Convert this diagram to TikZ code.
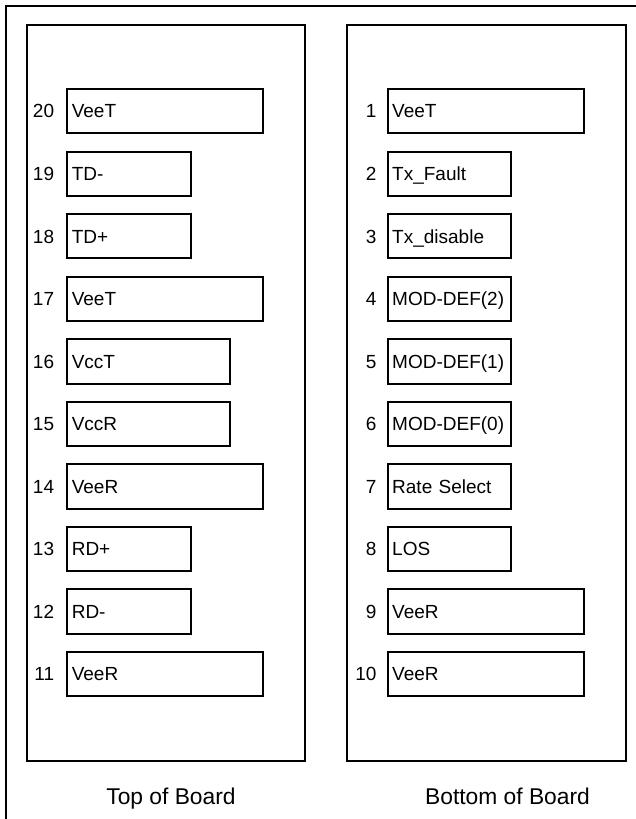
\documentclass[tikz,border=0pt]{standalone}
\usepackage{fontspec}
\setmainfont{Liberation Sans}
\usepackage{tikz}
\usetikzlibrary{
    positioning
}

\begin{document}
\begin{tikzpicture}[
    x=1pt, y=-1pt,
    node distance=18.26pt,
    frame/.style={
        draw=black,
        line width=2pt
    },
    pinbox/.style={
        rectangle,
        draw=black,
        line width=2pt,
        outer sep=0pt,
        minimum height=44.3pt,
        inner xsep=4.5pt,
        inner ysep=0pt,
        text height=13.6pt,
        text depth=0pt,
        align=left,
        anchor=north west,
        font=\fontsize{19}{22}\selectfont
    },
    pinwide/.style={pinbox, text width=187pt},
    pinmid/.style={pinbox, text width=153.7pt},
    pinnarrow/.style={pinbox, text width=114.5pt},
    pinnum/.style={
        inner sep=0pt,
        text height=13.6pt,
        text depth=0pt,
        font=\fontsize{19}{22}\selectfont
    },
    caption/.style={
        inner sep=0pt,
        anchor=base,
        font=\fontsize{22.8}{26}\selectfont
    }
]
\clip (0,0) rectangle (636,819);

% ===== outer frame and the two sides =====
\draw[frame] (6,6) rectangle (660,840);
\draw[frame] (27,25.3) rectangle (305,761);
\draw[frame] (347.3,25.3) rectangle (625.7,761);

% ===== TOP OF BOARD: pins 20-11 =====
\node[pinwide] (p20) at (67.3,89) {VeeT};
\node[pinnarrow, below=of p20.south west, anchor=north west] (p19) {TD-};
\node[pinnarrow, below=of p19.south west, anchor=north west] (p18) {TD+};
\node[pinwide, below=of p18.south west, anchor=north west] (p17) {VeeT};
\node[pinmid, below=of p17.south west, anchor=north west] (p16) {VccT};
\node[pinmid, below=of p16.south west, anchor=north west] (p15) {VccR};
\node[pinwide, below=of p15.south west, anchor=north west] (p14) {VeeR};
\node[pinnarrow, below=of p14.south west, anchor=north west] (p13) {RD+};
\node[pinnarrow, below=of p13.south west, anchor=north west] (p12) {RD-};
\node[pinwide, below=of p12.south west, anchor=north west] (p11) {VeeR};

\node[pinnum, left=13pt of p20] (n20) {20};
\node[pinnum, left=13pt of p19] (n19) {19};
\node[pinnum, left=13pt of p18] (n18) {18};
\node[pinnum, left=13pt of p17] (n17) {17};
\node[pinnum, left=13pt of p16] (n16) {16};
\node[pinnum, left=13pt of p15] (n15) {15};
\node[pinnum, left=13pt of p14] (n14) {14};
\node[pinnum, left=13pt of p13] (n13) {13};
\node[pinnum, left=13pt of p12] (n12) {12};
\node[pinnum, left=13pt of p11] (n11) {11};

% ===== BOTTOM OF BOARD: pins 1-10 =====
\node[pinwide] (p1) at (387.7,89) {VeeT};
\node[pinnarrow, below=of p1.south west, anchor=north west] (p2) {Tx\_Fault};
\node[pinnarrow, below=of p2.south west, anchor=north west] (p3) {Tx\_disable};
\node[pinnarrow, below=of p3.south west, anchor=north west] (p4) {MOD-DEF(2)};
\node[pinnarrow, below=of p4.south west, anchor=north west] (p5) {MOD-DEF(1)};
\node[pinnarrow, below=of p5.south west, anchor=north west] (p6) {MOD-DEF(0)};
\node[pinnarrow, below=of p6.south west, anchor=north west] (p7) {Rate Select};
\node[pinnarrow, below=of p7.south west, anchor=north west] (p8) {LOS};
\node[pinwide, below=of p8.south west, anchor=north west] (p9) {VeeR};
\node[pinwide, below=of p9.south west, anchor=north west] (p10) {VeeR};

\node[pinnum, left=11pt of p1] (n1) {1};
\node[pinnum, left=11pt of p2] (n2) {2};
\node[pinnum, left=11pt of p3] (n3) {3};
\node[pinnum, left=11pt of p4] (n4) {4};
\node[pinnum, left=11pt of p5] (n5) {5};
\node[pinnum, left=11pt of p6] (n6) {6};
\node[pinnum, left=11pt of p7] (n7) {7};
\node[pinnum, left=11pt of p8] (n8) {8};
\node[pinnum, left=11pt of p9] (n9) {9};
\node[pinnum, left=11pt of p10] (n10) {10};

% ===== captions =====
\node[caption] (topcap) at (171,804) {Top of Board};
\node[caption] (botcap) at (507.5,804) {Bottom of Board};

\end{tikzpicture}
\end{document}
